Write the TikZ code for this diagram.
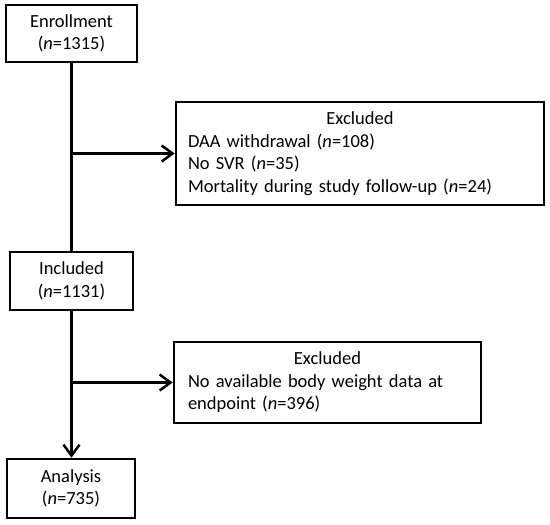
\documentclass[tikz,border=0pt]{standalone}
\usepackage{fontspec}
\setmainfont{Carlito}
\usetikzlibrary{arrows.meta}
\begin{document}
\begin{tikzpicture}[x=1pt,y=-1pt,
  box/.style={draw,line width=2.5pt,inner sep=0pt,align=center,font=\fontsize{18.5}{22.5}\selectfont},
  exbox/.style={draw,line width=2.5pt,inner ysep=0pt,align=left,font=\fontsize{18.5}{22.5}\selectfont},
  conn/.style={line width=2.5pt},
  arr/.style={line width=2.5pt,-{Straight Barb[length=11pt,width=16pt,line width=2.5pt]}}]
\useasboundingbox[fill=white] (0,0) rectangle (550,525);
\node[box,minimum width=131pt,minimum height=57pt] (enr) at (71.5,33.5) {Enrollment\\(\textit{n}=1315)};
\node[exbox,minimum width=368pt,minimum height=103pt,inner xsep=12pt,text width=344pt] (ex1) at (360,153.5)
  {\makebox[344pt]{Excluded}\\DAA withdrawal (\textit{n}=108)\\No SVR (\textit{n}=35)\\Mortality during study follow-up (\textit{n}=24)};
\node[box,minimum width=123pt,minimum height=58pt] (inc) at (71.5,281) {Included\\(\textit{n}=1131)};
\node[exbox,minimum width=307pt,minimum height=81pt,inner xsep=14pt,text width=279pt] (ex2) at (327.5,382.5)
  {\makebox[279pt]{Excluded}\\No available body weight data at\\endpoint (\textit{n}=396)};
\node[box,minimum width=128pt,minimum height=59pt] (ana) at (71,488.5) {Analysis\\(\textit{n}=735)};
\draw[conn] (enr.south) -- (enr.south |- inc.north);
\draw[arr] (enr.south |- ex1.west) -- (ex1.west);
\draw[arr] (inc.south) -- (inc.south |- ana.north);
\draw[arr] (inc.south |- ex2.west) -- (ex2.west);
\end{tikzpicture}
\end{document}
